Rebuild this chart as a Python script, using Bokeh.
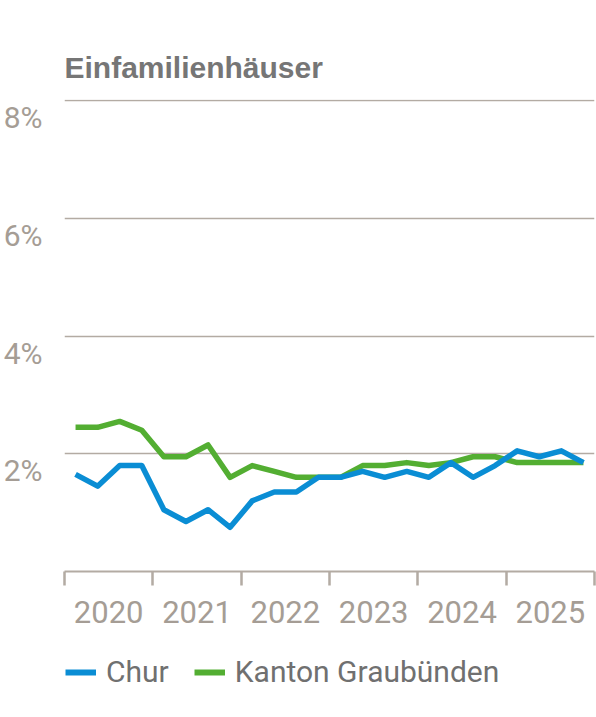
from bokeh.plotting import figure
from bokeh.layouts import column
from bokeh.models import Range1d, FixedTicker, Legend, LegendItem
from bokeh.embed import file_html
from bokeh.resources import INLINE

# quarterly values, 2020 Q1 .. 2025 Q4
years = [2020, 2021, 2022, 2023, 2024, 2025]
quarters = [y + (q - 0.5) / 4 for y in years for q in range(1, 5)]

chur = [1.65, 1.45, 1.8, 1.8, 1.05, 0.85, 1.05, 0.75,
        1.2, 1.35, 1.35, 1.6, 1.6, 1.7, 1.6, 1.7,
        1.6, 1.85, 1.6, 1.8, 2.05, 1.95, 2.05, 1.85]
kanton = [2.45, 2.45, 2.55, 2.4, 1.95, 1.95, 2.15, 1.6,
          1.8, 1.7, 1.6, 1.6, 1.6, 1.8, 1.8, 1.85,
          1.8, 1.85, 1.95, 1.95, 1.85, 1.85, 1.85, 1.85]

y_ticks = [2, 4, 6, 8]
y_labels = ["2%", "4%", "6%", "8%"]
series = ["Chur", "Kanton Graubünden"]

BLUE = "#0a8dd4"
GREEN = "#53ae32"
AXIS = "#b3aba3"
LABEL = "#a59d95"
FONT = "Roboto"

p = figure(width=596, height=635, output_backend="svg", toolbar_location=None,
           x_range=Range1d(2020, 2026), y_range=Range1d(0, 8.02),
           min_border_left=64, min_border_right=2, min_border_top=99,
           min_border_bottom=64)
p.outline_line_color = None
p.background_fill_color = None
p.border_fill_color = None

p.title.text = "Einfamilienhäuser"
p.title.text_font = "Liberation Sans"
p.title.text_font_style = "bold"
p.title.text_font_size = "30px"
p.title.text_color = "#767676"
p.title.align = "left"
p.title.offset = 0
p.title.standoff = 32

# y axis: labels only, hanging a little below each grid line
label_drop = 0.29
label_pos = [t - label_drop for t in y_ticks]
p.yaxis.ticker = FixedTicker(ticks=label_pos)
p.yaxis.major_label_overrides = dict(zip(label_pos, y_labels))
p.yaxis.axis_line_color = None
p.yaxis.major_tick_line_color = None
p.yaxis.minor_tick_line_color = None
p.yaxis.major_tick_out = 0
p.yaxis.major_label_text_align = "right"
p.yaxis.major_label_standoff = 22
p.yaxis.major_label_text_font = FONT
p.yaxis.major_label_text_font_size = "30px"
p.yaxis.major_label_text_color = LABEL

p.ygrid.ticker = FixedTicker(ticks=y_ticks)
p.ygrid.grid_line_color = AXIS
p.ygrid.grid_line_width = 1.3
p.xgrid.grid_line_color = None

# x axis: year labels centred, boundary ticks as minor ticks
p.xaxis.ticker = FixedTicker(ticks=[y + 0.5 for y in years],
                             minor_ticks=years + [2026])
p.xaxis.major_label_overrides = {y + 0.5: str(y) for y in years}
p.xaxis.axis_line_color = AXIS
p.xaxis.axis_line_width = 2
p.xaxis.major_tick_line_color = None
p.xaxis.major_tick_out = 0
p.xaxis.major_tick_in = 0
p.xaxis.minor_tick_line_color = AXIS
p.xaxis.minor_tick_line_width = 2.5
p.xaxis.minor_tick_out = 14
p.xaxis.minor_tick_in = 0
p.xaxis.major_label_standoff = 15
p.xaxis.major_label_text_font = FONT
p.xaxis.major_label_text_font_size = "31px"
p.xaxis.major_label_text_color = LABEL

r_chur = p.line(quarters, chur, line_color=BLUE, line_width=5.5, line_join="round")
r_kanton = p.line(quarters, kanton, line_color=GREEN, line_width=5.5, line_join="round")
p.renderers = [r_kanton, r_chur]

# legend strip underneath (lines lie outside its ranges, only the keys show);
# its frame is aligned with the chart frame by the column layout
lg = figure(width=596, height=80, output_backend="svg", toolbar_location=None,
            x_range=Range1d(0, 1), y_range=Range1d(0, 1),
            min_border=0, min_border_top=18)
lg.axis.visible = False
lg.grid.visible = False
lg.outline_line_color = None
lg.background_fill_color = None
lg.border_fill_color = None
k_chur = lg.line(quarters, chur, line_color=BLUE, line_width=6)
k_kanton = lg.line(quarters, kanton, line_color=GREEN, line_width=6)

legend = Legend(items=[LegendItem(label=series[0], renderers=[k_chur]),
                       LegendItem(label=series[1], renderers=[k_kanton])],
                orientation="horizontal", location="top_left",
                label_text_font=FONT, label_text_font_size="30px",
                label_text_color="#707070", glyph_width=31, glyph_height=20,
                label_standoff=10, spacing=25, padding=0, margin=1,
                border_line_color=None, background_fill_color=None)
lg.add_layout(legend)

open("out.html", "w").write(file_html(column(p, lg), INLINE))
